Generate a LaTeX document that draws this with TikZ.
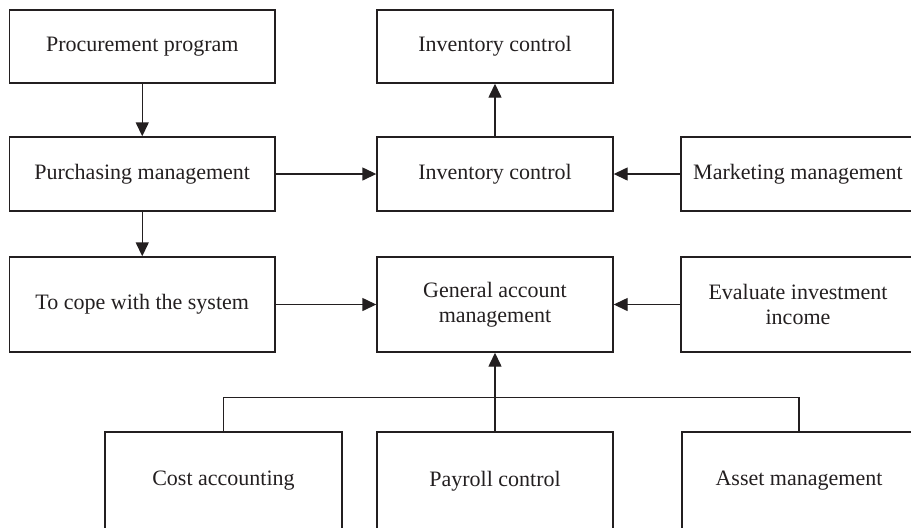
\documentclass[tikz,border=0pt]{standalone}
\usepackage{fontspec}
\setmainfont{Liberation Serif}
\usetikzlibrary{arrows.meta, positioning}
\definecolor{ink}{HTML}{231F20}

\begin{document}
\begin{tikzpicture}[x=0.5pt, y=-0.5pt, >={Triangle[length=7pt,width=6.5pt]},
  box/.style={draw=ink, line width=0.7pt, text=ink, align=center, inner sep=0pt,
    font=\fontsize{11}{12.5}\selectfont},
  leftbox/.style={box, minimum width=132.75pt},
  midbox/.style={box, minimum width=118pt},
  rightbox/.style={box, minimum width=117pt},
  link/.style={draw=ink, line width=0.7pt}]
  \useasboundingbox (0,0) rectangle (911,527);
  \clip (0,0) rectangle (911,527);
  % 第一行
  \node[leftbox, minimum height=36.5pt] (proc) at (142.25,46.5) {Procurement program};
  \node[midbox, minimum height=36.5pt] (invtop) at (495,46.5) {Inventory control};
  % 第二行
  \node[leftbox, minimum height=37pt] (purch) at (142.25,174) {Purchasing management};
  \node[midbox, minimum height=37pt] (invmid) at (495,174) {Inventory control};
  \node[rightbox, minimum height=37pt] (mkt) at (798,174) {Marketing management};
  % 第三行
  \node[leftbox, minimum height=47.5pt] (cope) at (142.25,304.5) {To cope with the system};
  \node[midbox, minimum height=47.5pt] (gen) at (495,304.5) {General account\\management};
  \node[rightbox, minimum height=47.5pt] (eval) at (798,304.5) {Evaluate investment\\income};
  % 第四行
  \node[box, minimum width=118.5pt, minimum height=49pt] (cost) at (223.5,481) {Cost accounting};
  \node[midbox, minimum height=49pt] (pay) at (495,481) {Payroll control};
  \node[rightbox, minimum height=49pt] (asset) at (799,481) {Asset management};
  % 箭头
  \draw[link, ->] (proc) -- (purch);
  \draw[link, ->] (purch) -- (cope);
  \draw[link, ->] (purch) -- (invmid);
  \draw[link, ->] (invmid) -- (invtop);
  \draw[link, ->] (mkt) -- (invmid);
  \draw[link, ->] (cope) -- (gen);
  \draw[link, ->] (eval) -- (gen);
  % 汇总线
  \draw[link] (cost.north) -- ++(0,-34) -| (asset.north);
  \draw[link, ->] (pay) -- (gen);
\end{tikzpicture}
\end{document}
